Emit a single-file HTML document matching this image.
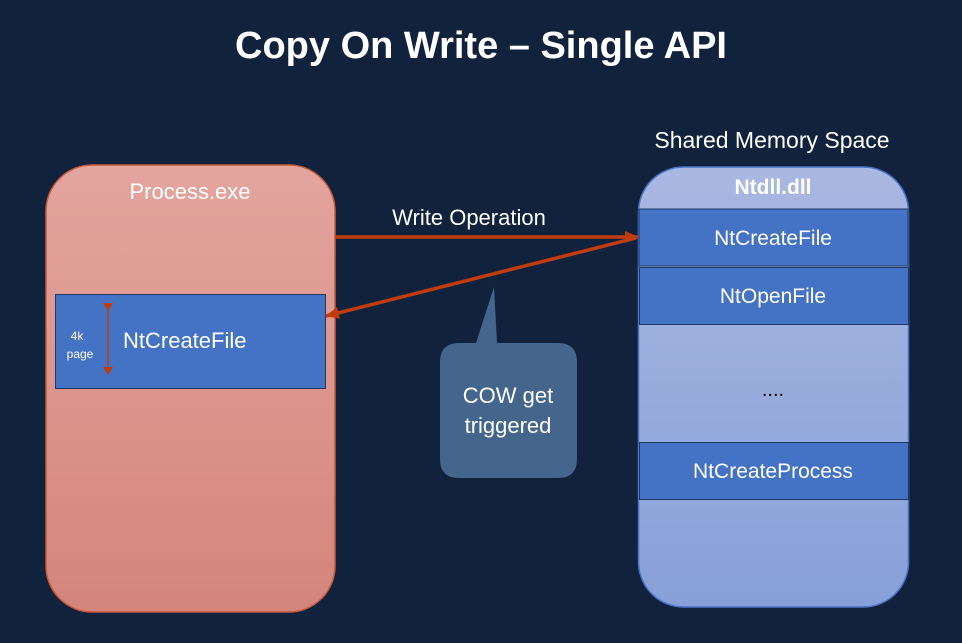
<!DOCTYPE html>
<html><head><meta charset="utf-8"><style>
html,body{margin:0;padding:0;background:#11233c;width:962px;height:643px;overflow:hidden}
svg{display:block}
text{font-family:"Liberation Sans",sans-serif;fill:#fff}
</style></head><body>
<svg width="962" height="643" viewBox="0 0 962 643">
<defs>
<linearGradient id="g1" x1="0" y1="0" x2="0" y2="1"><stop offset="0" stop-color="#e3a59e"/><stop offset="1" stop-color="#d3857b"/></linearGradient>
<linearGradient id="g2" x1="0" y1="0" x2="0" y2="1"><stop offset="0" stop-color="#a9b8e0"/><stop offset="1" stop-color="#87a0d8"/></linearGradient>
<marker id="ah" markerWidth="8" markerHeight="10" refX="7" refY="5" orient="auto" markerUnits="userSpaceOnUse"><path d="M0,0 L8,5 L0,10 Z" fill="#c03c0c"/></marker>
<marker id="ah2" markerWidth="14" markerHeight="12" refX="13" refY="6" orient="auto" markerUnits="userSpaceOnUse"><path d="M0,0 L14,6 L0,12 Z" fill="#c03c0c"/></marker>
</defs>
<text x="481" y="58" font-size="38" font-weight="bold" text-anchor="middle">Copy On Write – Single API</text>
<rect x="46" y="165" width="289" height="447" rx="46" fill="url(#g1)" stroke="#c55a3a" stroke-width="1.5"/>
<text x="190" y="199" font-size="22" text-anchor="middle">Process.exe</text>
<rect x="55.5" y="294.5" width="270" height="94" fill="#4472c4" stroke="#1f3864"/>
<text x="123" y="348" font-size="22">NtCreateFile</text>
<text x="77" y="340" font-size="12" text-anchor="middle">4k</text>
<text x="80" y="358" font-size="12" text-anchor="middle">page</text>
<line x1="108" y1="310" x2="108" y2="374" stroke="#c03c0c" stroke-width="1.5" marker-start="url(#ah)" marker-end="url(#ah)"/>
<rect x="638.5" y="167" width="270" height="440" rx="45" fill="url(#g2)" stroke="#4a72c4" stroke-width="1.5"/>
<text x="773" y="194" font-size="21" font-weight="bold" text-anchor="middle">Ntdll.dll</text>
<rect x="639" y="209" width="269" height="57" fill="#4472c4" stroke="#1f3864"/>
<text x="773" y="245" font-size="21" text-anchor="middle">NtCreateFile</text>
<rect x="639.5" y="267.5" width="269" height="57" fill="#4472c4" stroke="#1f3864"/>
<text x="773" y="303" font-size="21" text-anchor="middle">NtOpenFile</text>
<text x="773" y="396" font-size="20" text-anchor="middle" style="fill:#000">....</text>
<rect x="639.5" y="442.5" width="269" height="57" fill="#4472c4" stroke="#1f3864"/>
<text x="773" y="478" font-size="21" text-anchor="middle">NtCreateProcess</text>
<text x="772" y="148" font-size="23" text-anchor="middle">Shared Memory Space</text>
<text x="469" y="225" font-size="22" text-anchor="middle">Write Operation</text>
<line x1="335" y1="237" x2="638" y2="237" stroke="#c03c0c" stroke-width="3.5" marker-end="url(#ah2)"/>
<line x1="636" y1="238" x2="326" y2="316" stroke="#c03c0c" stroke-width="3.5" marker-end="url(#ah2)"/>
<path d="M494,287 L497,343 L558,343 Q577,343 577,362 L577,459 Q577,478 558,478 L459,478 Q440,478 440,459 L440,362 Q440,343 459,343 L476,343 Z" fill="#44668c"/>
<text x="508" y="403" font-size="22" text-anchor="middle">COW get</text>
<text x="508" y="433" font-size="22" text-anchor="middle">triggered</text>
</svg>
</body></html>
